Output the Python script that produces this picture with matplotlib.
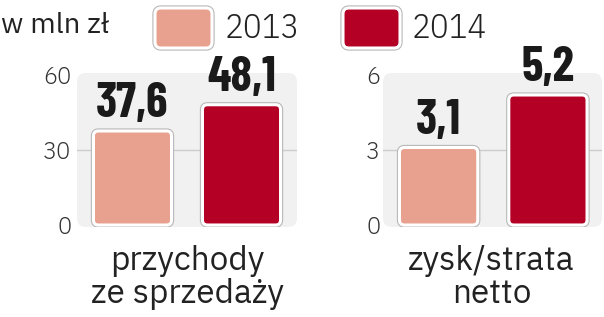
import matplotlib.pyplot as plt
from matplotlib.patches import FancyBboxPatch
import matplotlib.patheffects as pe

# data
categories = ["przychody\nze sprzedaży", "zysk/strata\nnetto"]
years = ["2013", "2014"]
values_2013 = [37.6, 3.1]
values_2014 = [48.1, 5.2]
y_ticks = [[0, 30, 60], [0, 3, 6]]
unit_label = "w mln zł"

colors = ["#e8a08f", "#b50026"]
W, H, DPI = 604, 317, 100

fig = plt.figure(figsize=(W / DPI, H / DPI), dpi=DPI)
fig.patch.set_facecolor("white")

light = dict(family="IBM Plex Sans Condensed", weight=300)
tick_font = dict(family="IBM Plex Sans Arabic", weight=300)
label_font = dict(family="IBM Plex Sans", weight=400)
bold = dict(family="Barlow Condensed", weight=700)

# panel boxes in pixels: left, width
panels = [(77, 220), (383, 219)]
bg_top, bg_bot = 73, 227


def rounded_bar(ax, rect, color, px_x, px_y, r_px=5):
    x, y = rect.get_x(), rect.get_y()
    w, h = rect.get_width(), rect.get_height()
    rect.remove()
    p = FancyBboxPatch((x, y), w, h,
                       boxstyle="round,pad=0,rounding_size=%f" % (r_px / px_x),
                       mutation_aspect=px_x / px_y,
                       facecolor=color, edgecolor="white", linewidth=2.2,
                       zorder=3)
    p.set_path_effects([pe.withStroke(linewidth=3.8, foreground="#b8b8b8")])
    ax.add_patch(p)


for i, (left, width) in enumerate(panels):
    height = bg_bot - bg_top
    ax = fig.add_axes([left / W, (H - bg_bot) / H, width / W, height / H])
    ymax = y_ticks[i][-1]
    # 0 at px 225, max at px 75
    unit_px = 150 / ymax
    pad = 2 / unit_px
    ax.set_ylim(-pad, ymax + pad)
    ax.set_xlim(-0.509, 1.509 if i == 0 else 1.495)
    ax.patch.set_alpha(0)
    for s in ax.spines.values():
        s.set_visible(False)

    bg = FancyBboxPatch((0, 0), 1, 1, transform=ax.transAxes,
                        boxstyle="round,pad=0,rounding_size=0.04",
                        mutation_aspect=width / height,
                        facecolor="#f1f1f1", edgecolor="none", zorder=0,
                        clip_on=False)
    ax.add_patch(bg)
    ax.axhline(y_ticks[i][1], color="#cdcdcd", lw=1, zorder=1)

    vals = [values_2013[i], values_2014[i]]
    bars = ax.bar([0, 1], vals, width=0.716, color=colors, zorder=3)
    px_x = width / (ax.get_xlim()[1] - ax.get_xlim()[0])
    px_y = unit_px
    for b, c in zip(list(bars), colors):
        rounded_bar(ax, b, c, px_x, px_y)

    for x, v in zip([0, 1], vals):
        ax.annotate(f"{v:.1f}".replace(".", ","), (x, v),
                    xytext=(0, 10), textcoords="offset points",
                    ha="center", va="baseline", fontsize=35,
                    color="#1a1a1a", zorder=5, **bold)

    ax.set_xticks([])
    ax.set_yticks(y_ticks[i])
    ax.tick_params(axis="y", length=0, pad=4 if i == 0 else 2,
                   labelsize=17, labelcolor="#333333")
    for t in ax.get_yticklabels():
        t.set_fontfamily(tick_font["family"])
        t.set_fontweight(tick_font["weight"])

    cx = (left + width / 2 + (0 if i == 0 else -1)) / W
    first, second = categories[i].split("\n")
    fig.text(cx, (H - 270) / H, first, ha="center", va="baseline",
             fontsize=24, color="#222222", **label_font)
    fig.text(cx, (H - 303) / H, second, ha="center", va="baseline",
             fontsize=24, color="#222222", **label_font)

# legend row
fig.text(1 / W, (H - 33) / H, unit_label, ha="left", va="baseline",
         fontsize=21, color="#222222", **label_font)
legend_boxes = [(155, 225), (343, 412)]
for (bx, tx), c, yr in zip(legend_boxes, colors, years):
    p = FancyBboxPatch((bx / W, (H - 48) / H), 57 / W, 40 / H,
                       transform=fig.transFigure,
                       boxstyle="round,pad=0,rounding_size=%f" % (6 / W),
                       mutation_aspect=W / H,
                       facecolor=c, edgecolor="white", linewidth=2.2)
    p.set_path_effects([pe.withStroke(linewidth=3.8, foreground="#b8b8b8")])
    fig.patches.append(p)
    fig.text(tx / W, (H - 38) / H, yr, ha="left", va="baseline",
             fontsize=25, color="#222222", **light)

fig.savefig("out.png", dpi=DPI)
